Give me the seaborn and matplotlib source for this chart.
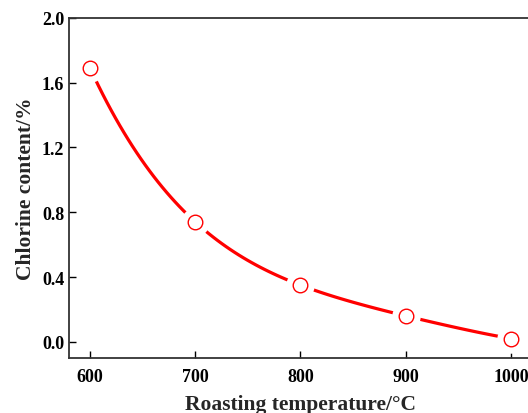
import matplotlib
matplotlib.use("Agg")
import matplotlib.pyplot as plt
import seaborn as sns
import pandas as pd

# data
temperature = [600, 700, 800, 900, 1000]
chlorine = [1.69, 0.74, 0.35, 0.16, 0.02]
x_ticks = [600, 700, 800, 900, 1000]
y_ticks = [0.0, 0.4, 0.8, 1.2, 1.6, 2.0]

df = pd.DataFrame({"temperature": temperature, "chlorine": chlorine})

sns.set_style("ticks")
plt.rcParams["font.family"] = ["Liberation Serif", "DejaVu Serif"]
plt.rcParams["font.weight"] = "bold"

fig = plt.figure(figsize=(5.28, 4.14), dpi=100)
ax = fig.add_axes([0.1307, 0.1329, 0.8767, 0.8213])

# smooth curve through the points
sns.regplot(data=df, x="temperature", y="chlorine", order=4, ci=None,
            scatter=False, ax=ax, line_kws={"color": "red", "lw": 2.3})
# white backing to leave a gap around markers
sns.scatterplot(data=df, x="temperature", y="chlorine", ax=ax, s=420,
                color="white", edgecolor="white", linewidth=0, zorder=3)
sns.scatterplot(data=df, x="temperature", y="chlorine", ax=ax, s=110,
                facecolor="white", edgecolor="red", linewidth=1.0, zorder=4)

ax.set_xlim(580, 1020)
ax.set_ylim(-0.1, 2.0)
ax.set_xticks(x_ticks)
ax.set_yticks(y_ticks)
ax.set_yticklabels([f"{v:.1f}" for v in y_ticks])
ax.tick_params(direction="in", length=5, width=1.0, labelsize=13,
               colors="black")
ax.tick_params(axis="x", pad=7)
for lab in ax.get_xticklabels() + ax.get_yticklabels():
    lab.set_fontweight("bold")
ax.spines["right"].set_visible(False)
for sp in ax.spines.values():
    sp.set_linewidth(1.3)
    sp.set_color("#333333")

ax.set_xlabel("Roasting temperature/\u00b0C", fontsize=15.5, fontweight="bold", labelpad=7)
ax.set_ylabel("Chlorine content/%", fontsize=15.5, fontweight="bold", labelpad=4)

fig.savefig("out.png", dpi=100)
